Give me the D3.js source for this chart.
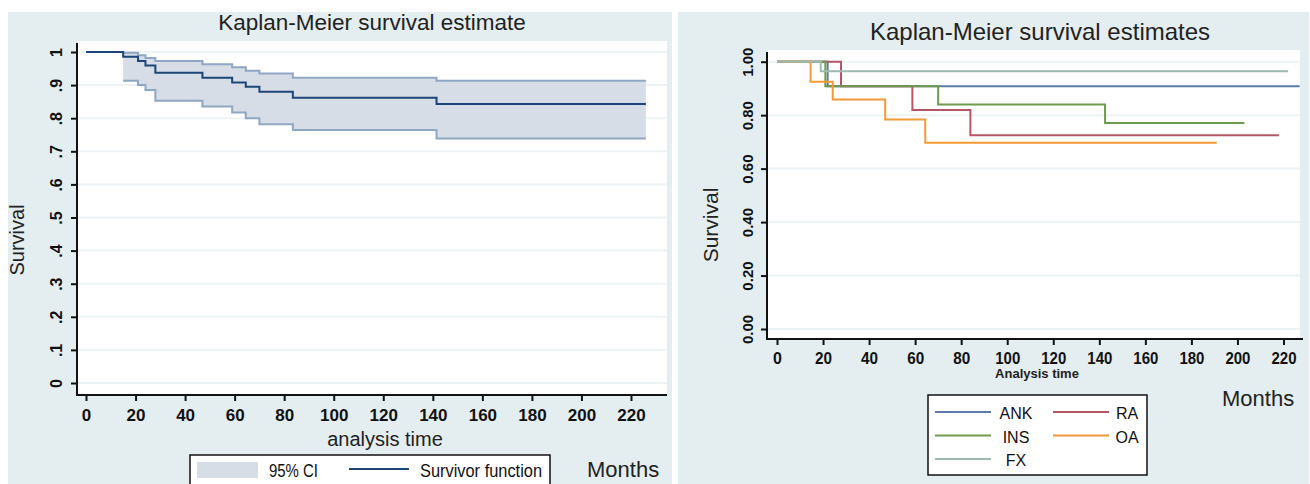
<!DOCTYPE html>
<html>
<head>
<meta charset="utf-8">
<script src="https://cdn.jsdelivr.net/npm/d3@7"></script>
<style>
body { margin: 0; background: #fff; }
svg { display: block; font-family: "Liberation Sans", Arial, sans-serif; }
.tick text { font-family: "Liberation Sans", Arial, sans-serif; font-weight: bold; fill: #111; }
</style>
</head>
<body>
<svg id="chart" width="1310" height="484"></svg>
<script>
// left panel: overall KM estimate with 95% CI
var kmTimes = [0, 15, 21, 24, 28, 47, 59, 64.5, 70, 83.5, 141.5];
var kmSurv  = [1, 0.986, 0.973, 0.959, 0.937, 0.922, 0.908, 0.895, 0.880, 0.862, 0.843];
var kmEnd = 226;
var ciTimes = [15, 21, 24, 28, 47, 59, 64.5, 70, 83.5, 141.5];
var ciUpper = [0.998, 0.990, 0.982, 0.973, 0.963, 0.954, 0.943, 0.935, 0.922, 0.913];
var ciLower = [0.913, 0.900, 0.885, 0.853, 0.835, 0.817, 0.800, 0.782, 0.764, 0.739];
var leftYTicks = [0, 0.1, 0.2, 0.3, 0.4, 0.5, 0.6, 0.7, 0.8, 0.9, 1];
var leftYLabels = ["0", ".1", ".2", ".3", ".4", ".5", ".6", ".7", ".8", ".9", "1"];
var xTicks = [0, 20, 40, 60, 80, 100, 120, 140, 160, 180, 200, 220];

// right panel: KM by diagnosis
var groups = ["ANK", "RA", "INS", "OA", "FX"];
var groupColors = ["#5b7ba9", "#b85564", "#6e9a4d", "#f29a36", "#9eb9ad"];
var groupTimes = [
	[0, 22],
	[0, 27.8, 58.8, 84],
	[0, 21, 70, 142.5],
	[0, 14.6, 24.2, 47, 64.4],
	[0, 19]
];
var groupSurv = [
	[1, 0.908],
	[1, 0.908, 0.819, 0.725],
	[1, 0.908, 0.840, 0.771],
	[1, 0.925, 0.859, 0.784, 0.697],
	[1, 0.964]
];
var groupEnd = [227, 218, 203, 191, 222];
var rightYTicks = [0, 0.2, 0.4, 0.6, 0.8, 1];

var svg = d3.select("#chart");
var bg = "#e4edf0";
var gridColor = "#eef3f5";

function stepPoints(times, vals, end) {
	var pts = times.map(function(t, i){ return [t, vals[i]]; });
	pts.push([end, vals[vals.length-1]]);
	return pts;
}

// ---------- left panel ----------
svg.append("rect").attr("x", 8).attr("y", 12).attr("width", 664).attr("height", 472).attr("fill", bg);
svg.append("rect").attr("x", 78).attr("y", 41).attr("width", 589).attr("height", 354).attr("fill", "#fff");

var xL = d3.scaleLinear().domain([0, 220]).range([86, 631]);
var yL = d3.scaleLinear().domain([0, 1]).range([383, 52]);

svg.append("g").selectAll("line").data(leftYTicks).enter().append("line")
	.attr("x1", 78).attr("x2", 667)
	.attr("y1", function(d){ return yL(d); }).attr("y2", function(d){ return yL(d); })
	.attr("stroke", gridColor).attr("stroke-width", 2);

var band = ciTimes.map(function(t, i){ return {t: t, lo: ciLower[i], hi: ciUpper[i]}; });
band.push({t: kmEnd, lo: ciLower[ciLower.length-1], hi: ciUpper[ciUpper.length-1]});

svg.append("path").datum(band)
	.attr("d", d3.area().curve(d3.curveStepAfter)
		.x(function(d){ return xL(d.t); })
		.y0(function(d){ return yL(d.lo); })
		.y1(function(d){ return yL(d.hi); }))
	.attr("fill", "#d6dde6");

var stepLine = function(xs, ys) {
	return d3.line().curve(d3.curveStepAfter)
		.x(function(d){ return xs(d[0]); })
		.y(function(d){ return ys(d[1]); });
};

[ciUpper, ciLower].forEach(function(vals){
	svg.append("path").datum(stepPoints(ciTimes, vals, kmEnd))
		.attr("d", stepLine(xL, yL))
		.attr("fill", "none").attr("stroke", "#8fa7c3").attr("stroke-width", 2);
});

svg.append("path").datum(stepPoints(kmTimes, kmSurv, kmEnd))
	.attr("d", stepLine(xL, yL))
	.attr("fill", "none").attr("stroke", "#1d4577").attr("stroke-width", 2);

// axes
var axL = svg.append("g").attr("transform", "translate(0,395)")
	.call(d3.axisBottom(xL).tickValues(xTicks).tickSize(6).tickPadding(8).tickSizeOuter(0));
axL.select(".domain").attr("d", "M77,0H667");
axL.selectAll(".tick text").style("font-size", "17px");
axL.selectAll("line, path").attr("stroke", "#111").attr("stroke-width", 2);

var ayL = svg.append("g").attr("transform", "translate(77,0)")
	.call(d3.axisLeft(yL).tickValues(leftYTicks).tickFormat(function(d, i){ return leftYLabels[i]; })
		.tickSize(6).tickSizeOuter(0));
ayL.select(".domain").attr("d", "M0,43V396");
ayL.selectAll("line, path").attr("stroke", "#111").attr("stroke-width", 2);
ayL.selectAll(".tick text")
	.style("font-size", "16px")
	.attr("x", 0).attr("dy", null)
	.attr("text-anchor", "middle")
	.attr("transform", "translate(-15,0) rotate(-90)");

svg.append("text").attr("x", 372).attr("y", 30).attr("text-anchor", "middle")
	.style("font-size", "22.5px").attr("fill", "#222").text("Kaplan-Meier survival estimate");
svg.append("text").attr("transform", "translate(24,240) rotate(-90)").attr("text-anchor", "middle")
	.style("font-size", "20px").attr("fill", "#222").text("Survival");
svg.append("text").attr("x", 385).attr("y", 446).attr("text-anchor", "middle")
	.style("font-size", "20px").attr("fill", "#222").text("analysis time");

// left legend
var lgL = svg.append("g");
lgL.append("rect").attr("x", 190).attr("y", 455).attr("width", 360).attr("height", 40)
	.attr("fill", "#fff").attr("stroke", "#111").attr("stroke-width", 1.5);
lgL.append("rect").attr("x", 197).attr("y", 462).attr("width", 61).attr("height", 16).attr("fill", "#d6dde6");
lgL.append("text").attr("x", 269).attr("y", 477)
	.attr("textLength", 49).attr("lengthAdjust", "spacingAndGlyphs")
	.style("font-size", "18px").attr("fill", "#111").text("95% CI");
lgL.append("line").attr("x1", 349).attr("x2", 409).attr("y1", 469).attr("y2", 469)
	.attr("stroke", "#1d4577").attr("stroke-width", 2);
lgL.append("text").attr("x", 420).attr("y", 477)
	.attr("textLength", 122).attr("lengthAdjust", "spacingAndGlyphs")
	.style("font-size", "18px").attr("fill", "#111").text("Survivor function");
svg.append("text").attr("x", 587).attr("y", 477)
	.style("font-size", "22px").attr("fill", "#222").text("Months");

// ---------- right panel ----------
svg.append("rect").attr("x", 678).attr("y", 12).attr("width", 631).attr("height", 472).attr("fill", bg);
svg.append("rect").attr("x", 768).attr("y", 50).attr("width", 532).attr("height", 289).attr("fill", "#fff");

var xR = d3.scaleLinear().domain([0, 220]).range([777, 1283.5]);
var yR = d3.scaleLinear().domain([0, 1]).range([329, 61.7]);

svg.append("g").selectAll("line").data(rightYTicks).enter().append("line")
	.attr("x1", 768).attr("x2", 1300)
	.attr("y1", function(d){ return yR(d); }).attr("y2", function(d){ return yR(d); })
	.attr("stroke", gridColor).attr("stroke-width", 2);

groups.forEach(function(g, i){
	svg.append("path").datum(stepPoints(groupTimes[i], groupSurv[i], groupEnd[i]))
		.attr("d", stepLine(xR, yR))
		.attr("fill", "none").attr("stroke", groupColors[i]).attr("stroke-width", 2);
});

var axR = svg.append("g").attr("transform", "translate(0,339)")
	.call(d3.axisBottom(xR).tickValues(xTicks).tickSize(6).tickPadding(8).tickSizeOuter(0));
axR.select(".domain").attr("d", "M767,0H1303");
axR.selectAll(".tick text").style("font-size", "16px")
	.attr("textLength", function(d){ return d >= 100 ? 25 : (d > 0 ? 17 : null); })
	.attr("lengthAdjust", "spacingAndGlyphs");
axR.selectAll("line, path").attr("stroke", "#111").attr("stroke-width", 2);

var ayR = svg.append("g").attr("transform", "translate(767,0)")
	.call(d3.axisLeft(yR).tickValues(rightYTicks).tickFormat(d3.format(".2f"))
		.tickSize(6).tickSizeOuter(0));
ayR.select(".domain").attr("d", "M0,52V340");
ayR.selectAll("line, path").attr("stroke", "#111").attr("stroke-width", 2);
ayR.selectAll(".tick text")
	.style("font-size", "15px")
	.attr("x", 0).attr("dy", null)
	.attr("text-anchor", "middle")
	.attr("transform", "translate(-14,0) rotate(-90)");

svg.append("text").attr("x", 1040).attr("y", 40).attr("text-anchor", "middle")
	.style("font-size", "24px").attr("fill", "#222").text("Kaplan-Meier survival estimates");
svg.append("text").attr("transform", "translate(718,225) rotate(-90)").attr("text-anchor", "middle")
	.style("font-size", "21px").attr("fill", "#222").text("Survival");
svg.append("text").attr("x", 1037).attr("y", 378).attr("text-anchor", "middle")
	.style("font-weight", "bold").style("font-size", "13px").attr("fill", "#222").text("Analysis time");

// right legend
var legendOrder = ["ANK", "INS", "FX", "RA", "OA"];
var lgR = svg.append("g");
lgR.append("rect").attr("x", 928).attr("y", 395).attr("width", 219).attr("height", 80)
	.attr("fill", "#fff").attr("stroke", "#111").attr("stroke-width", 1.5);
legendOrder.forEach(function(g, k){
	var i = groups.indexOf(g);
	var col = k < 3 ? 0 : 1;
	var row = k < 3 ? k : k - 3;
	var ly = 412 + row * 23.5;
	var lx = col === 0 ? 935 : 1053;
	lgR.append("line").attr("x1", lx).attr("x2", lx + 56).attr("y1", ly).attr("y2", ly)
		.attr("stroke", groupColors[i]).attr("stroke-width", 2);
	lgR.append("text").attr("x", col === 0 ? 1016 : 1127).attr("y", ly + 7).attr("text-anchor", "middle")
		.style("font-size", "16px").attr("fill", "#111").text(g);
});
svg.append("text").attr("x", 1222).attr("y", 406)
	.style("font-size", "22px").attr("fill", "#222").text("Months");
</script>
</body>
</html>
